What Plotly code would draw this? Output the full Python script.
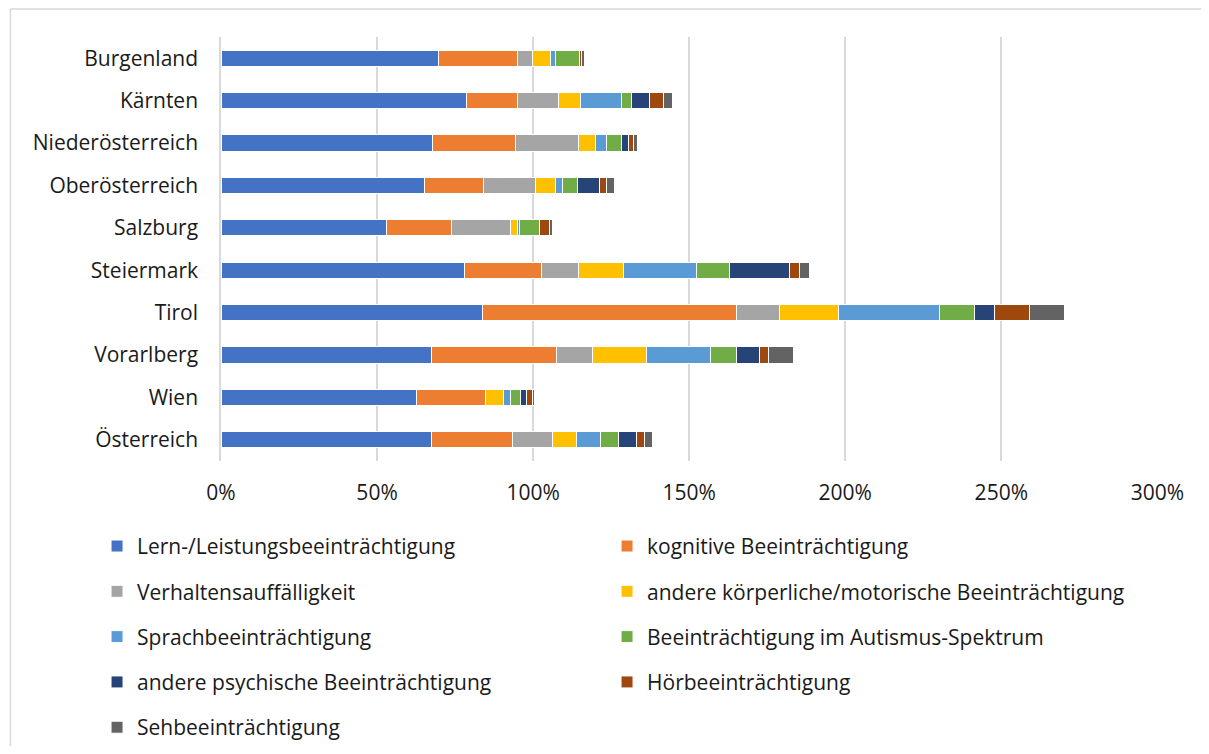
import plotly.graph_objects as go

regions = ["Burgenland", "Kärnten", "Niederösterreich", "Oberösterreich", "Salzburg",
           "Steiermark", "Tirol", "Vorarlberg", "Wien", "Österreich"]

series_names = [
    "Lern-/Leistungsbeeinträchtigung",
    "kognitive Beeinträchtigung",
    "Verhaltensauffälligkeit",
    "andere körperliche/motorische Beeinträchtigung",
    "Sprachbeeinträchtigung",
    "Beeinträchtigung im Autismus-Spektrum",
    "andere psychische Beeinträchtigung",
    "Hörbeeinträchtigung",
    "Sehbeeinträchtigung",
]

# values in percent, order follows regions
lern = [69.6, 78.8, 67.6, 65.3, 53.1, 77.9, 83.7, 67.3, 62.7, 67.3]
kognitiv = [25.3, 16.1, 26.6, 18.9, 20.6, 24.9, 81.3, 40.2, 22.1, 26.0]
verhalten = [5.0, 13.2, 20.4, 16.4, 19.2, 11.6, 13.8, 11.4, 0.0, 12.8]
koerperlich = [5.8, 7.1, 5.5, 6.7, 2.1, 14.7, 19.0, 17.4, 5.7, 7.9]
sprache = [1.4, 13.1, 3.4, 2.0, 0.5, 23.3, 32.3, 20.6, 2.4, 7.5]
autismus = [7.9, 3.1, 4.7, 4.8, 6.6, 10.6, 11.4, 8.3, 3.2, 6.0]
psychisch = [0.0, 6.0, 2.5, 7.3, 0.0, 19.1, 6.3, 7.2, 1.7, 5.5]
hoeren = [0.4, 4.3, 1.4, 2.0, 3.3, 3.1, 11.2, 3.0, 1.9, 2.6]
sehen = [1.1, 2.8, 1.2, 2.6, 0.9, 3.3, 11.2, 7.9, 0.7, 2.7]

colors = ["#4472C4", "#ED7D31", "#A5A5A5", "#FFC000", "#5B9BD5",
          "#70AD47", "#264478", "#9E480E", "#636363"]

all_values = [lern, kognitiv, verhalten, koerperlich, sprache, autismus, psychisch, hoeren, sehen]

fig = go.Figure()
for i, (name, vals, col) in enumerate(zip(series_names, all_values, colors)):
    fig.add_trace(go.Bar(
        y=regions,
        x=[v / 100 for v in vals],
        name=name,
        orientation='h',
        marker=dict(color=col, line=dict(color='white', width=1)),
        width=0.38,
        legend='legend' if i % 2 == 0 else 'legend2',
        legendgroup='g%d' % i,
    ))

font = "Open Sans, Liberation Sans, sans-serif"
txt = '#1a1a1a'

leg = dict(orientation='v', yanchor='top', xanchor='left', y=-0.153,
           tracegroupgap=15, traceorder='grouped', bgcolor='rgba(0,0,0,0)',
           font=dict(size=21, color=txt))

fig.update_layout(
    width=1193, height=738,
    barmode='stack',
    plot_bgcolor='white', paper_bgcolor='white',
    margin=dict(l=213, r=43, t=29, b=285, autoexpand=False),
    font=dict(family=font, size=21, color=txt),
    xaxis=dict(range=[0, 3.002], tickformat='.0%', dtick=0.5,
               showgrid=True, gridcolor='#D9D9D9', gridwidth=1.5,
               zeroline=False, showline=False,
               tickfont=dict(size=21, color=txt), ticklabelstandoff=17),
    yaxis=dict(autorange='reversed', showline=True, linecolor='#D9D9D9', linewidth=1.5,
               ticks='', ticklabelstandoff=17, tickfont=dict(size=21, color=txt)),
    legend=dict(leg, x=-0.1323),
    legend2=dict(leg, x=0.412),
    showlegend=True,
)

# chart frame: only the left and top edges are visible in the original
frame = dict(color='#D9D9D9', width=1.5)
fig.add_shape(type='line', xref='paper', yref='paper',
              x0=-0.2247, x1=-0.2247, y0=-0.9, y1=1.066, line=frame, layer='below')
fig.add_shape(type='line', xref='paper', yref='paper',
              x0=-0.2247, x1=1.2, y0=1.066, y1=1.066, line=frame, layer='below')

fig.write_html("out.html")
